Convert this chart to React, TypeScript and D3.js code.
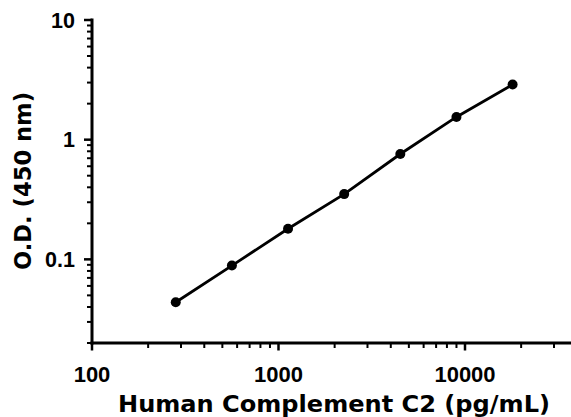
import React from "react";
import * as d3 from "d3";

const concentrations = [281.25, 562.5, 1125, 2250, 4500, 9000, 18000];
const odValues = [0.0438, 0.0887, 0.18, 0.351, 0.759, 1.549, 2.886];
const xTickValues = [100, 1000, 10000];
const yTickValues = [0.1, 1, 10];
const xTickLabels = ["100", "1000", "10000"];
const yTickLabels = ["0.1", "1", "10"];
const xLabel = "Human Complement C2 (pg/mL)";
const yLabel = "O.D. (450 nm)";

const W = 571;
const H = 417;
const TITLE_FONT = "'DejaVu Sans', sans-serif";
const TICK_FONT = "'Liberation Sans', Arial, sans-serif";

export default function App() {
  const x = d3.scaleLog().domain([100, 40000]).range([92, 92 + 186.5 * Math.log10(400)]);
  const y = d3.scaleLog().domain([0.02, 10]).range([343, 20]);

  const xMinor: number[] = [];
  for (let k = 2; k <= 4; k++) {
    for (let m = 2; m <= 9; m++) {
      const v = m * Math.pow(10, k);
      if (v <= 40000) xMinor.push(v);
    }
  }
  const yMinor: number[] = [];
  for (let k = -2; k <= 0; k++) {
    for (let m = 2; m <= 9; m++) {
      const v = m * Math.pow(10, k);
      if (v >= 0.02 && v <= 10) yMinor.push(v);
    }
  }

  const line = d3
    .line<number>()
    .x((_, i) => x(concentrations[i]))
    .y((d) => y(d));

  const x0 = x(100);
  const y0 = y(0.02);

  return (
    <svg
      width={W}
      height={H}
      style={{ position: "absolute", left: 0, top: 0, background: "#fff" }}
      fontWeight="bold"
    >
      <rect width={W} height={H} fill="#fff" />
      {/* axes */}
      <line x1={x0} x2={x0} y1={y(10) - 1.5} y2={y0 + 1.5} stroke="#000" strokeWidth={3} />
      <line x1={x0 - 1.5} x2={W + 10} y1={y0} y2={y0} stroke="#000" strokeWidth={3} />
      {/* y ticks */}
      {yTickValues.map((v) => (
        <line key={"ym" + v} x1={x0 - 8} x2={x0} y1={y(v)} y2={y(v)} stroke="#000" strokeWidth={2.5} />
      ))}
      {yMinor.map((v) => (
        <line key={"yn" + v} x1={x0 - 5} x2={x0} y1={y(v)} y2={y(v)} stroke="#000" strokeWidth={2} />
      ))}
      {yTickValues.map((v, i) => (
        <text
          key={"yl" + v}
          x={75}
          y={y(v)}
          dy="0.36em"
          textAnchor="end"
          fontSize={21.5}
          fontFamily={TICK_FONT}
          fill="#000"
        >
          {yTickLabels[i]}
        </text>
      ))}
      {/* x ticks */}
      {xTickValues.map((v) => (
        <line key={"xm" + v} x1={x(v)} x2={x(v)} y1={y0} y2={y0 + 7.5} stroke="#000" strokeWidth={2.5} />
      ))}
      {xMinor.map((v) => (
        <line key={"xn" + v} x1={x(v)} x2={x(v)} y1={y0} y2={y0 + 5} stroke="#000" strokeWidth={2} />
      ))}
      {xTickValues.map((v, i) => (
        <text
          key={"xl" + v}
          x={x(v)}
          y={381.5}
          textAnchor="middle"
          fontSize={22}
          fontFamily={TICK_FONT}
          fill="#000"
        >
          {xTickLabels[i]}
        </text>
      ))}
      {/* axis titles */}
      <text
        x={334}
        y={411.5}
        textAnchor="middle"
        fontSize={22.5}
        fontFamily={TITLE_FONT}
        textLength={432}
        lengthAdjust="spacingAndGlyphs"
        fill="#000"
      >
        {xLabel}
      </text>
      <text
        transform={`translate(31,181) rotate(-90)`}
        textAnchor="middle"
        fontSize={22.5}
        fontFamily={TITLE_FONT}
        textLength={178}
        lengthAdjust="spacingAndGlyphs"
        fill="#000"
      >
        {yLabel}
      </text>
      {/* data */}
      <path d={line(odValues) || ""} fill="none" stroke="#000" strokeWidth={2.8} />
      {odValues.map((v, i) => (
        <circle key={"p" + i} cx={x(concentrations[i])} cy={y(v)} r={5} fill="#000" />
      ))}
    </svg>
  );
}
